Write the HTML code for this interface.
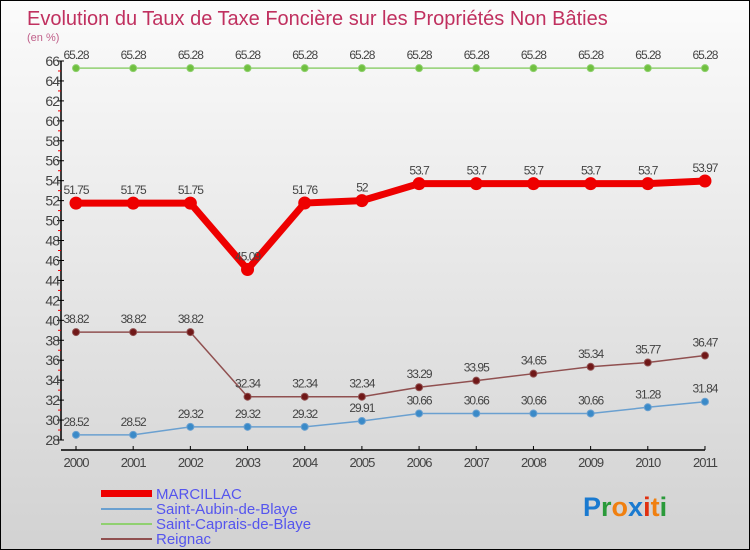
<!DOCTYPE html>
<html><head><meta charset="utf-8"><style>
body{margin:0}
#c{position:relative;width:748px;height:548px;border:1px solid #000;background:linear-gradient(#fbfbfb,#d2d2d2);font-family:"Liberation Sans",sans-serif;overflow:hidden}
svg text{font-family:"Liberation Sans",sans-serif}
</style></head><body>
<div id="c">
<svg id="s" width="748" height="548">
<text x="26" y="24" font-size="20" fill="#c0305f">Evolution du Taux de Taxe Foncière sur les Propriétés Non Bâties</text>
<text x="26" y="40" font-size="11" fill="#c0608a">(en %)</text>
<g id="axes"></g><g id="series"></g>
<g>
<rect x="100" y="489" width="51" height="7" fill="#e00"/>
<text x="155" y="498" font-size="15" fill="#5555ee">MARCILLAC</text>
<rect x="100" y="507" width="51" height="2" fill="#6aa0d0"/>
<text x="155" y="513" font-size="15" fill="#5555ee">Saint-Aubin-de-Blaye</text>
<rect x="100" y="522" width="51" height="2" fill="#90d070"/>
<text x="155" y="528" font-size="15" fill="#5555ee">Saint-Caprais-de-Blaye</text>
<rect x="100" y="537" width="51" height="2" fill="#905050"/>
<text x="155" y="543" font-size="15" fill="#5555ee">Reignac</text>
</g>
<g font-size="27" font-weight="bold">
<text x="582" y="515"><tspan fill="#1a7ad0">P</tspan><tspan fill="#2a9a3a">r</tspan><tspan fill="#f08010">o</tspan><tspan fill="#1a7ad0">x</tspan><tspan fill="#e03010">i</tspan><tspan fill="#f08010">t</tspan><tspan fill="#2a9a3a">i</tspan></text>
</g>
</svg>
</div>
<script>
const years=["2000","2001","2002","2003","2004","2005","2006","2007","2008","2009","2010","2011"];
const marcillac=[51.75,51.75,51.75,45.09,51.76,52,53.7,53.7,53.7,53.7,53.7,53.97];
const aubin=[28.52,28.52,29.32,29.32,29.32,29.91,30.66,30.66,30.66,30.66,31.28,31.84];
const caprais=[65.28,65.28,65.28,65.28,65.28,65.28,65.28,65.28,65.28,65.28,65.28,65.28];
const reignac=[38.82,38.82,38.82,32.34,32.34,32.34,33.29,33.95,34.65,35.34,35.77,36.47];
const yTicks=[28,30,32,34,36,38,40,42,44,46,48,50,52,54,56,58,60,62,64,66];
const NS="http://www.w3.org/2000/svg";
const X=i=>75+i*57.18, Y=v=>60+(66-v)*9.974;
function mk(t,a,p){const e=document.createElementNS(NS,t);for(const k in a)e.setAttribute(k,a[k]);p.appendChild(e);return e;}
const ax=document.getElementById('axes'), sg=document.getElementById('series');
let l=mk('line',{x1:60,y1:Y(66),x2:60,y2:Y(28),stroke:'#000','stroke-width':1.5},ax);

l=mk('line',{x1:60,y1:449,x2:704,y2:449,stroke:'#000','stroke-width':1.5},ax);

yTicks.forEach(v=>{
 mk('line',{x1:56,y1:Y(v),x2:63,y2:Y(v),stroke:'#000'},ax);
 if(v<66) mk('line',{x1:57,y1:Y(v+1),x2:60,y2:Y(v+1),stroke:'#e00'},ax);
 const t=mk('text',{x:58,y:Y(v)+5,'font-size':14,fill:'#444','text-anchor':'end','letter-spacing':'-1'},ax);t.textContent=v;
 
});
years.forEach((y,i)=>{
 mk('line',{x1:X(i),y1:445,x2:X(i),y2:449,stroke:'#000'},ax);
 const t=mk('text',{x:X(i),y:466,'font-size':13,fill:'#444','text-anchor':'middle','letter-spacing':'-1'},ax);t.textContent=y;
 
});
function series(d,name,col,dot,w,r){
 const g=mk('g',{},sg);
 mk('polyline',{points:d.map((v,i)=>X(i)+','+Y(v)).join(' '),fill:'none',stroke:col,'stroke-width':w},g);
 d.forEach((v,i)=>{
  const c=mk('circle',{cx:X(i),cy:Y(v),r:r,fill:dot,stroke:col,'stroke-width':1},g);
  
  const t=mk('text',{x:X(i),y:Y(v)-9,'font-size':12,fill:'#444','text-anchor':'middle','letter-spacing':'-1'},g);t.textContent=v;
  
 });
}
series(caprais,'saint-caprais','#90d070','#70c040',1.5,3.5);
series(reignac,'reignac','#905050','#701818',1.5,3.5);
series(aubin,'saint-aubin','#6aa0d0','#3a8ac8',1.5,3.5);
series(marcillac,'marcillac','#e00','#e00',7,6);
</script>
</body></html>
